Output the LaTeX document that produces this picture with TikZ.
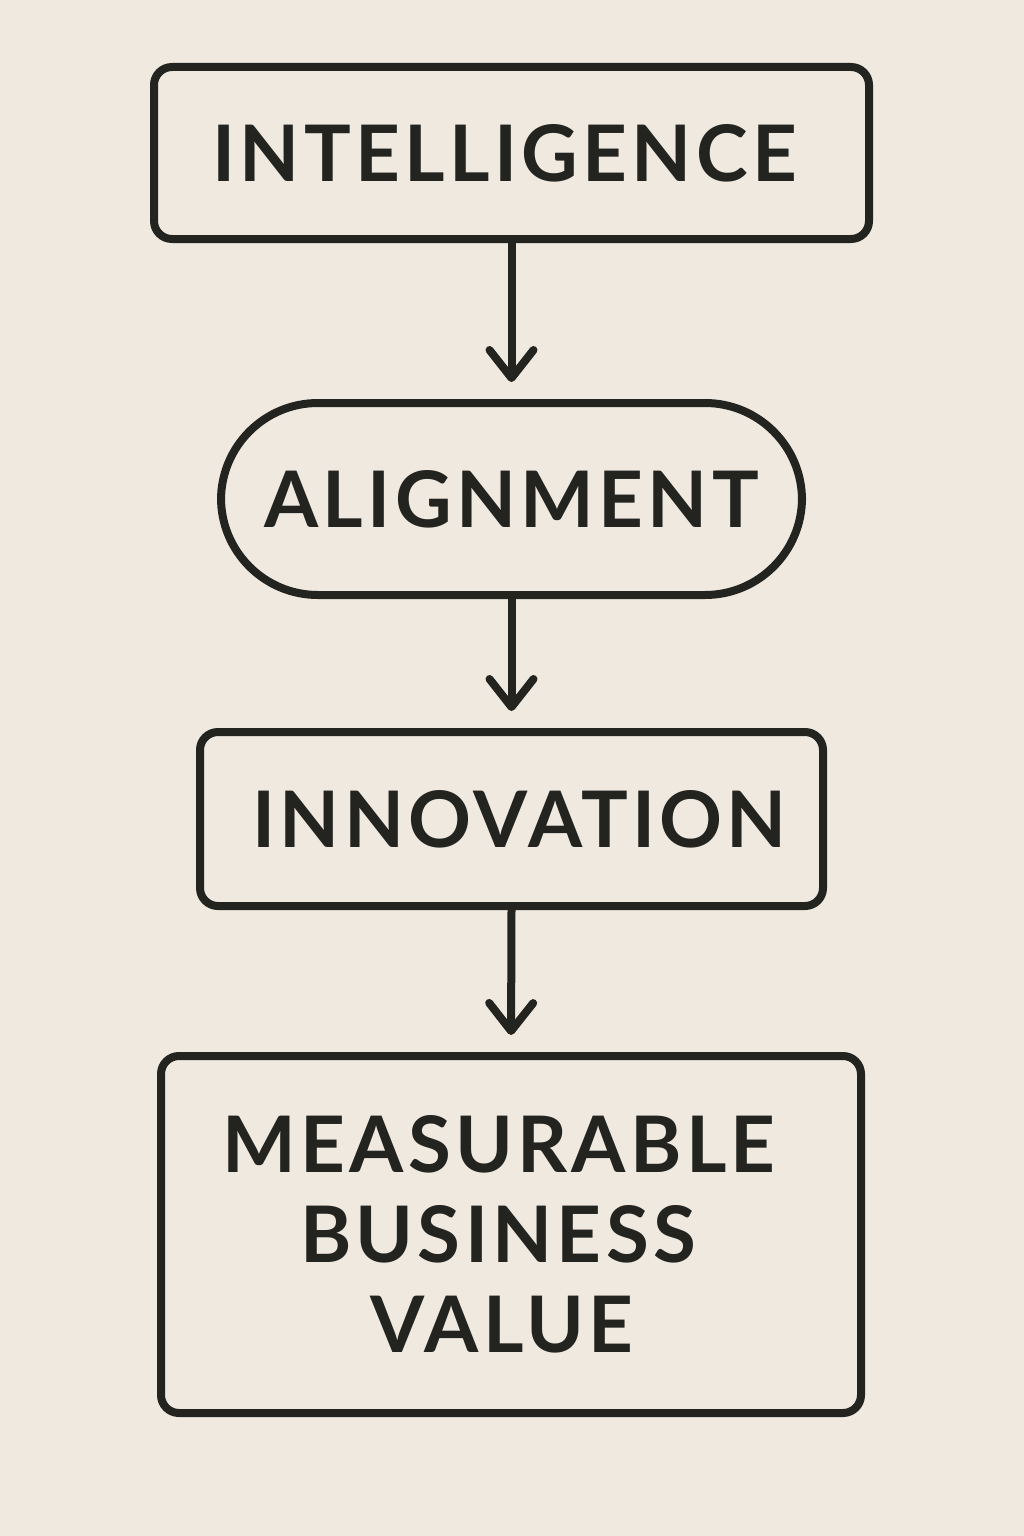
\documentclass[tikz,border=0pt]{standalone}
\usepackage{fontspec}
\setmainfont{Lato}[LetterSpace=5.5]
\usetikzlibrary{arrows.meta}
\definecolor{paper}{HTML}{EFE9E0}
\definecolor{ink}{HTML}{232420}
\tikzset{
  flowbox/.style={draw=ink, rectangle, rounded corners=18pt, line width=8pt, text=ink, font=\fontsize{78}{90}\selectfont\bfseries, align=center, inner sep=0pt},
  flowpill/.style={flowbox, rounded corners=97pt},
  flowarrow/.style={draw=ink, line width=8pt, -{Straight Barb[length=28pt,width=44pt,line cap=round,line join=round]}, shorten >=17pt}
}
\begin{document}
\begin{tikzpicture}[x=1pt,y=-1pt]
    \fill[paper] (0,0) rectangle (1024,1536);
    \node[flowbox, minimum width=715pt, minimum height=172pt] (intel) at (511.5,153) {\hspace*{-14pt}INTELLIGENCE};
    \node[flowpill, minimum width=581pt, minimum height=192pt] (align) at (511.5,499) {ALIGNMENT};
    \node[flowbox, minimum width=623pt, minimum height=174pt] (innov) at (511.5,819) {\hspace*{16pt}INNOVATION};
    \node[flowbox, minimum width=700pt, minimum height=357pt] (value) at (511,1234.5) {\hspace*{-24pt}MEASURABLE\\\hspace*{-26pt}BUSINESS\\\hspace*{-18pt}VALUE};
    \draw[flowarrow] (intel.south) -- (align.north);
    \draw[flowarrow] (align.south) -- (innov.north);
    \draw[flowarrow] (innov.south) -- (value.north);
\end{tikzpicture}
\end{document}
